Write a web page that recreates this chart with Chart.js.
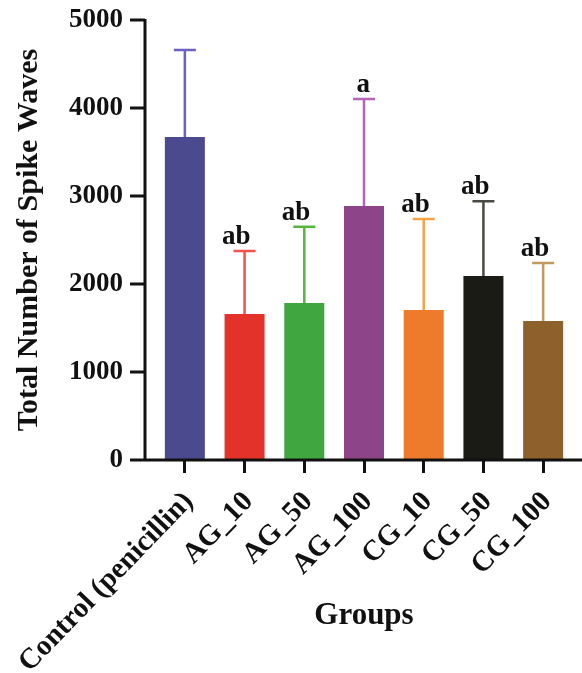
<!DOCTYPE html>
<html>
<head>
<meta charset="utf-8">
<script src="https://cdn.jsdelivr.net/npm/chart.js@4.4.1/dist/chart.umd.min.js"></script>
<style>
  html, body { margin: 0; padding: 0; background: #fff; }
  #wrap { width: 582px; height: 673px; }
</style>
</head>
<body>
<div id="wrap"><canvas id="canva1"></canvas></div>
<script>
// groupes (axe X)
const groupes = ['Control (penicillin)', 'AG_10', 'AG_50', 'AG_100', 'CG_10', 'CG_50', 'CG_100'];
// moyennes
const moyennes = [3670, 1660, 1785, 2886, 1705, 2091, 1580];
// écart-type (seulement la barre du haut)
const ecarts = [990, 715, 865, 1215, 1035, 850, 660];
// lettres de significativité
const lettres = ['', 'ab', 'ab', 'a', 'ab', 'ab', 'ab'];
// graduations Y
const graduations = [0, 1000, 2000, 3000, 4000, 5000];

const couleurs = ['#4b4a8f', '#e2322a', '#40a640', '#8e4489', '#ee7a2b', '#1b1b16', '#8e612c'];
const couleursErreur = ['#6c60c0', '#f0524c', '#56b63c', '#b565b6', '#f6a347', '#4a4a44', '#c09a5e'];

const police = "'Liberation Serif', 'Times New Roman', serif";

// dessine les axes, barres d'erreur et lettres
const decorations = {
    id: 'decorations',
    afterDatasetsDraw(chart) {
        const ctx = chart.ctx;
        const y = chart.scales.y;
        const zone = chart.chartArea;
        const meta = chart.getDatasetMeta(0);

        ctx.save();
        // barres d'erreur
        meta.data.forEach((barre, i) => {
            const haut = y.getPixelForValue(moyennes[i] + ecarts[i]);
            ctx.strokeStyle = couleursErreur[i];
            ctx.lineWidth = 2.5;
            ctx.beginPath();
            ctx.moveTo(barre.x, barre.y);
            ctx.lineTo(barre.x, haut);
            ctx.moveTo(barre.x - 11, haut);
            ctx.lineTo(barre.x + 11, haut);
            ctx.stroke();

            if (lettres[i]) {
                ctx.fillStyle = '#111';
                ctx.font = 'bold 27px ' + police;
                ctx.textAlign = 'right';
                ctx.textBaseline = 'alphabetic';
                ctx.fillText(lettres[i], barre.x + 6, haut - 7);
            }
        });

        // axe Y décalé vers la gauche comme sur la figure
        const axeX = zone.left - 10;
        ctx.strokeStyle = '#111';
        ctx.lineWidth = 3;
        ctx.beginPath();
        ctx.moveTo(axeX, y.getPixelForValue(5000) - 1);
        ctx.lineTo(axeX, zone.bottom);
        graduations.forEach(v => {
            const py = y.getPixelForValue(v);
            ctx.moveTo(axeX - 15, py);
            ctx.lineTo(axeX, py);
        });
        // axe X
        ctx.moveTo(axeX - 15, zone.bottom);
        ctx.lineTo(chart.width, zone.bottom);
        ctx.stroke();

        // titre de l'axe X
        ctx.fillStyle = '#111';
        ctx.font = 'bold 31px ' + police;
        ctx.textAlign = 'center';
        ctx.textBaseline = 'alphabetic';
        ctx.fillText('Groups', (zone.left + zone.right) / 2, 624);
        ctx.restore();
    }
};

const ctx = document.querySelector('#canva1');

new Chart(ctx, {
    type: 'bar',
    data: {
        labels: groupes,
        datasets: [{
            data: moyennes,
            backgroundColor: couleurs,
            borderWidth: 0,
            categoryPercentage: 1,
            barPercentage: 0.67
        }]
    },
    options: {
        responsive: true,
        maintainAspectRatio: false,
        animation: false,
        layout: { padding: { top: 20, right: 9, left: 0, bottom: 0 } },
        plugins: {
            legend: { display: false },
            tooltip: { enabled: false }
        },
        scales: {
            x: {
                afterFit: scale => {
                    scale.height = 213;
                    scale.paddingLeft = 0;
                    scale.paddingRight = 0;
                },
                border: { display: false },
                grid: {
                    display: true,
                    drawOnChartArea: false,
                    offset: false,
                    tickLength: 13,
                    lineWidth: 3,
                    color: '#111'
                },
                ticks: {
                    autoSkip: false,
                    minRotation: 46,
                    maxRotation: 46,
                    padding: 12,
                    labelOffset: 4,
                    color: '#111',
                    font: { family: police, size: 29, weight: 'bold' }
                }
            },
            y: {
                min: 0,
                max: 5000,
                afterFit: scale => {
                    scale.width = 155;
                    scale.paddingTop = 0;
                    scale.paddingBottom = 0;
                },
                afterBuildTicks: scale => { scale.ticks = graduations.map(v => ({ value: v })); },
                border: { display: false },
                grid: { display: false, drawTicks: false },
                ticks: {
                    padding: 32,
                    color: '#111',
                    callback: v => String(v),
                    font: { family: police, size: 27, weight: 'bold' }
                },
                title: {
                    display: true,
                    text: 'Total Number of Spike Waves',
                    color: '#111',
                    padding: { top: 11, bottom: 0 },
                    font: { family: police, size: 30, weight: 'bold' }
                }
            }
        }
    },
    plugins: [decorations]
});
</script>
</body>
</html>
